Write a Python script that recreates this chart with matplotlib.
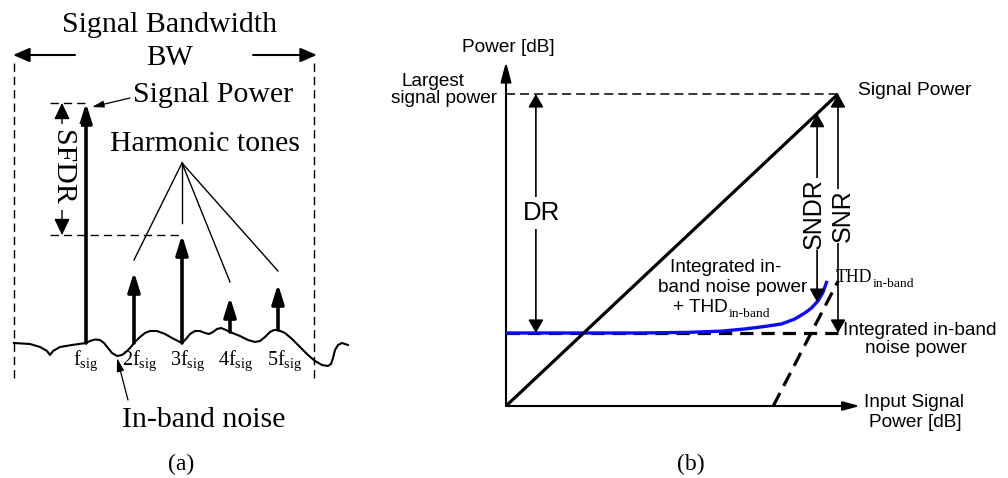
import matplotlib
matplotlib.use("Agg")
import matplotlib.pyplot as plt

plt.rcParams['lines.scale_dashes'] = False
plt.rcParams['mathtext.fontset'] = 'custom'
plt.rcParams['mathtext.rm'] = 'Liberation Serif'
plt.rcParams['mathtext.it'] = 'Liberation Serif:italic'

SERIF = 'Liberation Serif'
SANS = 'Liberation Sans'

# ---------------- Panel (a): spectrum (x = harmonic order, y = relative power) -----------
harmonic_order = [1, 2, 3, 4, 5]
tone_top = [24.0, 7.1, 10.8, 4.6, 5.9]
tone_base = [0.0, 0.0, 0.0, 1.1, 1.3]
tone_labels = [r'$\mathrm{f}_{\mathrm{sig}}$', r'$\mathrm{2f}_{\mathrm{sig}}$',
               r'$\mathrm{3f}_{\mathrm{sig}}$', r'$\mathrm{4f}_{\mathrm{sig}}$',
               r'$\mathrm{5f}_{\mathrm{sig}}$']
tone_label_x = [1.0, 2.125, 3.115, 4.115, 5.135]
noise_freq = [-0.5, -0.167, 0.042, 0.188, 0.25, 0.313, 0.458, 0.708,
              1.0, 1.083, 1.1875, 1.292, 1.375, 1.458, 1.542, 1.646, 1.75, 1.833, 1.917,
              2.0, 2.125, 2.229, 2.333, 2.479, 2.646, 2.792, 2.917,
              3.0, 3.083, 3.167, 3.271, 3.375, 3.479, 3.563, 3.646, 3.729, 3.813, 3.917,
              4.0, 4.208, 4.375, 4.521, 4.625, 4.729, 4.833, 4.917,
              5.0, 5.146, 5.292, 5.458, 5.625, 5.771, 5.917, 6.042, 6.104, 6.146, 6.188,
              6.25, 6.333, 6.458]
noise_level = [0.0, -0.1, -0.4, -0.8, -1.2, -0.8, -0.4, -0.2,
               0.0, 0.2, 0.35, 0.3, 0.0, -0.5, -1.0, -1.3, -1.2, -0.9, -0.5,
               0.0, 0.6, 1.0, 1.2, 1.2, 0.9, 0.5, 0.2,
               0.0, 0.4, 0.9, 1.2, 1.2, 1.0, 0.9, 1.1, 1.4, 1.5, 1.3,
               1.1, 0.7, 0.3, 0.1, 0.2, 0.6, 1.1, 1.3,
               1.3, 1.0, 0.4, -0.4, -1.2, -1.8, -2.2, -2.3, -2.1, -1.5, -0.7,
               -0.2, 0.0, -0.2]
band_edges = [-0.5, 5.75]
pointer_apex_y = 18.0
pointer_end_y = [8.3, 12.0, 6.1, 7.2]   # for harmonics 2..5

# ---------------- Panel (b): dynamic range (x = input power dB, y = output power dB) -----
input_power = [0, 100]
signal_power = [0, 100]
largest_signal = 100
noise_floor = 23.4
thd_input = [80.5, 100]
thd_power = [0, 40]
total_input = [0, 40, 55, 65, 72, 78, 83, 87, 90, 92, 94, 95.5, 96.7]
total_power = [23.4, 23.4, 23.6, 24.0, 24.7, 25.5, 26.3, 27.9, 29.8, 31.4, 33.7, 36.5, 40.1]
dr_x = 9.0
sndr_x = 93.7
sndr_low = 33.3
snr_x = 100

fig = plt.figure(figsize=(10.08, 4.78), dpi=100)
axA = fig.add_axes([0, 0, 350 / 1008, 1])
axA.set_xlim(-38 / 48, 6.5)
axA.set_ylim(-13.5, 34.3)
axA.axis('off')

axB = fig.add_axes([480 / 1008, 0, 528 / 1008, 1])
axB.set_xlim(-26 / 3.32, 502 / 3.32)
axB.set_ylim(-72 / 3.12, 406 / 3.12)
axB.axis('off')


def arrow(ax, start, end, lw, hl, hw, style='-|>', color='k', z=3):
    ax.annotate('', xy=end, xytext=start, xycoords='data', textcoords='data',
                arrowprops=dict(arrowstyle=f'{style},head_length={hl},head_width={hw}',
                                lw=lw, color=color, shrinkA=0, shrinkB=0,
                                mutation_scale=1), zorder=z, annotation_clip=False)


# ---- Panel (a)
for xe in band_edges:
    axA.plot([xe, xe], [-3.5, 28.5], color='k', lw=1.0, ls=(0, (6, 3.6)))
arrow(axA, (0.771, 28.8), (-0.52, 28.8), 1.5, 10, 4.3)
arrow(axA, (4.48, 28.8), (5.81, 28.8), 1.5, 10, 4.3)
axA.text(2.75, 31.1, 'Signal Bandwidth', family=SERIF, fontsize=21.5, ha='center', va='baseline')
axA.text(2.75, 27.8, 'BW', family=SERIF, fontsize=21, ha='center', va='baseline')

axA.plot(noise_freq, noise_level, color='k', lw=1.5, solid_joinstyle='round')

for f, top, base in zip(harmonic_order, tone_top, tone_base):
    arrow(axA, (f, base), (f, top), 2.6, 11.5, 3.6)
for lx, lab in zip(tone_label_x, tone_labels):
    axA.text(lx, -2.2, lab, fontsize=14.5, ha='center', va='baseline')

# SFDR
axA.plot([0.25, 1.083], [tone_top[0], tone_top[0]], color='k', lw=1.0, ls=(0, (6, 3.6)))
axA.plot([0.25, 3.02], [tone_top[2], tone_top[2]], color='k', lw=1.0, ls=(0, (6, 3.6)))
arrow(axA, (0.5, tone_top[2]), (0.5, tone_top[0]), 1.0, 10, 4.8, style='<|-|>')
axA.text(0.5, 17.6, 'SFDR', family=SERIF, fontsize=21.5, rotation=-90, ha='center', va='center',
         zorder=5, bbox=dict(facecolor='white', edgecolor='none', pad=4))

# Signal power pointer
axA.text(1.979, 24.1, 'Signal Power', family=SERIF, fontsize=21.5, ha='left', va='baseline')
arrow(axA, (1.917, 24.5), (1.125, 23.6), 0.9, 7, 2.0)

# Harmonic tones pointers
axA.text(3.479, 19.2, 'Harmonic tones', family=SERIF, fontsize=21.5, ha='center', va='baseline')
for f, ye in zip(harmonic_order[1:], pointer_end_y):
    axA.plot([3.0, f], [pointer_apex_y, ye], color='k', lw=1.0)

# In-band noise
axA.text(3.45, -8.4, 'In-band noise', family=SERIF, fontsize=21.5, ha='center', va='baseline')
arrow(axA, (1.875, -5.7), (1.646, -1.5), 0.9, 8, 2.2)
axA.text(2.98, -12.7, '(a)', family=SERIF, fontsize=17, ha='center', va='baseline')

# ---- Panel (b)
arrow(axB, (0, 0), (0, 110.3), 1.5, 12, 3.2)
arrow(axB, (0, 0), (106.6, 0), 1.5, 10, 2.7)
axB.text(0.6, 113.5, 'Power [dB]', family=SANS, fontsize=13.7, ha='center', va='baseline')
axB.text(122.9, -0.3, 'Input Signal', family=SANS, fontsize=13.7, ha='center', va='baseline')
axB.text(123.2, -6.7, 'Power [dB]', family=SANS, fontsize=13.7, ha='center', va='baseline')
axB.text(-22.0, 102.6, 'Largest', family=SANS, fontsize=13.7, ha='center', va='baseline')
axB.text(-18.7, 97.1, 'signal power', family=SANS, fontsize=13.7, ha='center', va='baseline')

axB.plot([0, snr_x], [largest_signal, largest_signal], color='k', lw=1.1, ls=(0, (6.5, 3.6)))
axB.plot(input_power, signal_power, color='k', lw=2.3, solid_capstyle='butt', zorder=4)
axB.text(106.0, 99.7, 'Signal Power', family=SANS, fontsize=13.9, ha='left', va='baseline')

axB.plot([0, snr_x], [noise_floor, noise_floor], color='k', lw=2.3, ls=(0, (9.5, 5.8)), zorder=2)
axB.plot(thd_input, thd_power, color='k', lw=2.3, ls=(0, (10.5, 5.8)), zorder=2)
axB.plot(total_input, total_power, color='#0a0aff', lw=2.4, zorder=3, solid_capstyle='butt')

# DR
arrow(axB, (dr_x, noise_floor), (dr_x, largest_signal), 1.2, 8, 4.6, style='<|-|>')
axB.text(10.8, 59.6, 'DR', family=SANS, fontsize=18.5, ha='center', va='baseline', zorder=5,
         bbox=dict(facecolor='white', edgecolor='none', pad=3))
# SNDR / SNR
arrow(axB, (sndr_x, sndr_low), (sndr_x, sndr_x), 1.2, 8, 4.5, style='<|-|>')
arrow(axB, (snr_x, noise_floor), (snr_x, largest_signal), 1.2, 8, 4.5, style='<|-|>')
axB.text(92.8, 61.5, 'SNDR', family=SANS, fontsize=18, rotation=90, ha='center', va='center',
         zorder=5, bbox=dict(facecolor='white', edgecolor='none', pad=0.3))
axB.text(101.4, 60.9, 'SNR', family=SANS, fontsize=18, rotation=90, ha='center', va='center',
         zorder=6, bbox=dict(facecolor='white', edgecolor='none', pad=0.3))

# Labels
axB.text(66.3, 42.9, 'Integrated in-', family=SANS, fontsize=13.7, ha='center', va='baseline')
axB.text(68.4, 36.5, 'band noise power', family=SANS, fontsize=13.7, ha='center', va='baseline')
t1 = axB.text(66.9, 30.1, '+ THD', family=SANS, fontsize=13.7, ha='right', va='baseline')
axB.annotate('in-band', xy=(1, 0), xycoords=t1, xytext=(0.3, -1.0), textcoords='offset points',
             family=SERIF, fontsize=9.7, ha='left', va='baseline')
t2 = axB.text(99.4, 39.7, 'THD', family=SERIF, fontsize=12.8, ha='left', va='baseline')
axB.annotate('in-band', xy=(1, 0), xycoords=t2, xytext=(0.3, -0.3), textcoords='offset points',
             family=SERIF, fontsize=9.7, ha='left', va='baseline')
axB.text(124.7, 22.8, 'Integrated in-band', family=SANS, fontsize=13.7, ha='center', va='baseline')
axB.text(123.5, 17.0, 'noise power', family=SANS, fontsize=13.7, ha='center', va='baseline')
axB.text(55.7, -20.5, '(b)', family=SERIF, fontsize=17, ha='center', va='baseline')

fig.savefig('out.png', dpi=100)
